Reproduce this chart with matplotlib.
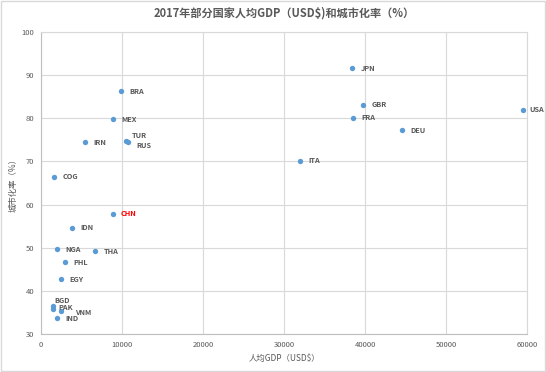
import matplotlib
matplotlib.use('Agg')
import matplotlib.pyplot as plt
from matplotlib.patches import Rectangle

plt.rcParams['font.family'] = ['Noto Sans CJK SC', 'DejaVu Sans']

# datos
paises = ['JPN', 'BRA', 'MEX', 'GBR', 'FRA', 'USA', 'DEU', 'TUR', 'RUS', 'IRN',
          'ITA', 'COG', 'CHN', 'IDN', 'NGA', 'THA', 'PHL', 'EGY', 'BGD', 'PAK',
          'VNM', 'IND']
pib = [38400, 9840, 8930, 39790, 38560, 59540, 44530, 10530, 10740, 5430,
       32010, 1640, 8850, 3870, 2010, 6670, 3000, 2430, 1480, 1430,
       2430, 2010]
urbano = [91.6, 86.3, 79.8, 83.1, 80.1, 82.0, 77.2, 74.7, 74.4, 74.4,
          70.1, 66.4, 57.9, 54.6, 49.6, 49.2, 46.6, 42.7, 36.6, 35.9,
          35.3, 33.7]

# desplazamiento de etiquetas (puntos)
desp = {'TUR': (4, 4), 'RUS': (6, -2), 'BGD': (1, 3.5), 'PAK': (4, 1),
        'VNM': (10, -1), 'USA': (4.5, 0)}

gris = '#595959'
fig = plt.figure(figsize=(5.46, 3.72), dpi=100)
ax = fig.add_axes([0.0751, 0.1022, 0.8901, 0.8118])

ax.scatter(pib, urbano, s=15, color='#5B9BD5', zorder=3, linewidths=0)

for p, x, y in zip(paises, pib, urbano):
    dx, dy = desp.get(p, (6, 0))
    ax.annotate(p, (x, y), xytext=(dx, dy), textcoords='offset points',
                fontsize=5.3, va='center', ha='left',
                color='#FF0000' if p == 'CHN' else gris,
                fontweight='bold', zorder=4)

ax.set_xlim(0, 60000)
ax.set_ylim(30, 100)
ax.set_xticks(range(0, 60001, 10000))
ax.set_yticks(range(30, 101, 10))
ax.grid(True, color='#d9d9d9', linewidth=0.8)
ax.set_axisbelow(True)
for s in ax.spines.values():
    s.set_color('#d9d9d9')
ax.spines['left'].set_color('#bfbfbf')
ax.spines['bottom'].set_color('#bfbfbf')
ax.tick_params(length=0, labelsize=5.5, labelcolor=gris, pad=5)

ax.set_title('2017年部分国家人均GDP（USD$)和城市化率（%）', fontsize=8,
             fontweight='bold', color=gris, pad=11)
ax.set_xlabel('人均GDP（USD$）', fontsize=6, color=gris, labelpad=4)
ax.set_ylabel('城市化率（%）', fontsize=6, color=gris, labelpad=3)

fig.patches.append(Rectangle((0.002, 0.003), 0.996, 0.994, transform=fig.transFigure,
                             fill=False, edgecolor='#d9d9d9', linewidth=1))

plt.savefig('out.png', dpi=100)
